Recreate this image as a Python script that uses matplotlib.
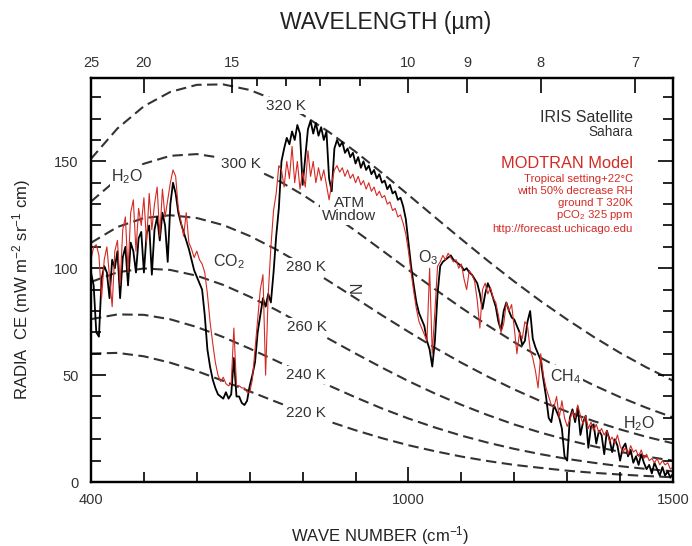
import matplotlib
matplotlib.use("Agg")
import matplotlib.pyplot as plt
import numpy as np
from matplotlib.ticker import MultipleLocator

plt.rcParams["font.family"] = ["Liberation Sans", "DejaVu Sans"]
plt.rcParams["mathtext.fontset"] = "custom"
plt.rcParams["mathtext.rm"] = "Liberation Sans"
plt.rcParams["mathtext.it"] = "Liberation Sans:italic"
plt.rcParams["mathtext.bf"] = "Liberation Sans:bold"

# spectra every 5 cm-1, 400..1500
wavenumber = np.arange(400, 1505, 5)

iris_sahara = [
    98, 92, 70, 68, 95, 101, 98, 86, 104, 100,
    108, 86, 105, 110, 92, 112, 108, 98, 114, 117,
    98, 116, 120, 97, 118, 124, 113, 126, 120, 103,
    130, 140, 135, 126, 121, 117, 113, 109, 104, 99,
    96, 93, 90, 78, 62, 54, 48, 44, 41, 40,
    39, 42, 39, 41, 58, 40, 40, 37, 36, 38,
    45, 50, 56, 70, 78, 86, 82, 88, 84, 98,
    115, 128, 150, 156, 161, 158, 164, 160, 167, 163,
    139, 152, 165, 169, 163, 168, 162, 166, 160, 164,
    142, 136, 156, 160, 157, 159, 154, 156, 152, 154,
    149, 152, 147, 150, 146, 148, 144, 146, 142, 144,
    140, 141, 137, 139, 135, 136, 132, 133, 129, 123,
    112, 101, 92, 84, 79, 76, 73, 66, 62, 54,
    66, 88, 101, 103, 104, 105, 106, 104, 103, 102,
    101, 99, 100, 98, 97, 95, 93, 88, 81, 88,
    93, 90, 86, 82, 75, 71, 80, 84, 80, 77,
    76, 73, 70, 64, 66, 75, 80, 67, 63, 60,
    57, 48, 40, 30, 28, 36, 33, 30, 25, 12,
    10, 30, 34, 28, 35, 22, 28, 31, 16, 26,
    27, 18, 24, 22, 13, 24, 20, 14, 20, 17,
    10, 16, 18, 12, 15, 9, 12, 8, 13, 9,
    6, 8, 4, 9, 6, 3, 7, 3, 5, 2,
    4,
]

modtran = [
    104, 110, 111, 106, 86, 104, 110, 96, 82, 108,
    113, 92, 118, 124, 98, 126, 132, 108, 128, 120,
    133, 112, 135, 118, 130, 138, 115, 137, 124, 132,
    140, 146, 143, 128, 122, 115, 126, 112, 109, 105,
    108, 104, 102, 98, 88, 75, 65, 56, 50, 47,
    49, 46, 45, 46, 72, 45, 45, 44, 44, 42,
    42, 48, 62, 76, 90, 97, 50, 88, 110, 127,
    135, 148, 146, 138, 150, 142, 157, 140, 150, 137,
    145, 138, 155, 143, 150, 140, 147, 141, 146, 139,
    132, 140, 146, 148, 145, 147, 143, 146, 142, 144,
    140, 143, 139, 141, 137, 140, 136, 138, 134, 136,
    133, 134, 130, 131, 127, 128, 124, 125, 121, 116,
    108, 98, 89, 81, 75, 72, 69, 66, 100, 60,
    80, 101, 103, 106, 104, 107, 105, 103, 104, 100,
    102, 95, 90, 99, 97, 94, 85, 72, 90, 93,
    88, 91, 86, 84, 78, 70, 74, 84, 80, 83,
    72, 60, 70, 67, 75, 73, 62, 58, 52, 44,
    60, 50, 44, 40, 36, 35, 40, 30, 38, 30,
    26, 29, 33, 30, 36, 31, 27, 31, 25, 28,
    24, 27, 23, 25, 22, 24, 19, 21, 18, 22,
    17, 14, 16, 13, 17, 14, 15, 12, 15, 11,
    13, 10, 11, 9, 11, 8, 10, 8, 9, 6,
    7,
]

# blackbody reference curves, read every 50 cm-1
planck_wn = [400, 450, 500, 550, 600, 650, 700, 750, 800, 850, 900, 950,
             1000, 1050, 1100, 1150, 1200, 1250, 1300, 1350, 1400, 1450, 1500]
planck_320 = [151.2, 165.4, 175.8, 182.5, 185.8, 186.0, 183.4, 178.5, 171.8, 163.7, 154.5, 144.6,
              134.3, 123.9, 113.6, 103.5, 93.8, 84.6, 76.0, 67.9, 60.4, 53.6, 47.4]
planck_300 = [131.2, 141.8, 148.9, 152.6, 153.4, 151.5, 147.4, 141.6, 134.4, 126.2, 117.5, 108.4,
              99.2, 90.2, 81.5, 73.2, 65.4, 58.1, 51.4, 45.3, 39.7, 34.7, 30.2]
planck_280 = [111.9, 119.3, 123.5, 124.8, 123.5, 120.2, 115.1, 108.8, 101.6, 93.9, 86.0, 78.0,
              70.3, 62.8, 55.8, 49.3, 43.3, 37.8, 32.9, 28.5, 24.6, 21.1, 18.1]
planck_260 = [93.6, 98.1, 99.9, 99.2, 96.5, 92.2, 86.7, 80.5, 73.7, 66.9, 60.1, 53.5,
              47.2, 41.4, 36.1, 31.3, 26.9, 23.1, 19.7, 16.7, 14.1, 11.9, 10.0]
planck_240 = [76.2, 78.4, 78.2, 76.1, 72.5, 67.8, 62.4, 56.7, 50.8, 45.1, 39.6, 34.4,
              29.7, 25.5, 21.7, 18.4, 15.5, 13.0, 10.8, 9.0, 7.4, 6.1, 5.0]
planck_220 = [60.1, 60.4, 58.8, 55.8, 51.9, 47.3, 42.4, 37.5, 32.8, 28.3, 24.2, 20.5,
              17.2, 14.4, 11.9, 9.8, 8.0, 6.6, 5.3, 4.3, 3.5, 2.8, 2.2]
planck_names = ["320 K", "300 K", "280 K", "260 K", "240 K", "220 K"]

wavelength_major = [25, 20, 15, 10, 9, 8, 7]
wavelength_minor = [14, 13, 12, 11]

fig = plt.figure(figsize=(6.92, 5.46), dpi=100)
ax = fig.add_axes([91 / 692, 64 / 546, 582 / 692, 404 / 546])

dark = "#333333"
red = "#d42a24"
box = dict(boxstyle="square,pad=0.12", fc="white", ec="none")

curves = [planck_320, planck_300, planck_280, planck_260, planck_240, planck_220]
label_at = [768, 684, 806, 808, 806, 806]
for vals, name, x_lab in zip(curves, planck_names, label_at):
    ax.plot(planck_wn, vals, color=dark, lw=1.5, ls=(0, (5, 2.6)), zorder=1)
    ax.text(x_lab, np.interp(x_lab, planck_wn, vals), name, fontsize=11, color=dark,
            ha="center", va="center", bbox=box, zorder=2)

ax.plot(wavenumber, iris_sahara, color="black", lw=1.3, zorder=3)
ax.plot(wavenumber, modtran, color=red, lw=0.8, zorder=4)

# band labels
ax.text(469, 143, "H$_2$O", fontsize=11.5, color=dark, ha="center", va="center", bbox=box, zorder=2)
ax.text(661, 103, "CO$_2$", fontsize=11.5, color=dark, ha="center", va="center", zorder=2)
ax.text(888, 127.5, "ATM\nWindow", fontsize=11, color=dark, ha="center", va="center",
        linespacing=0.95, bbox=box, zorder=2)
ax.text(903, 91, "N", fontsize=11.5, color=dark, ha="center", va="center", rotation=90, zorder=2)
ax.text(1037, 105, "O$_3$", fontsize=11.5, color=dark, ha="center", va="center", zorder=2)
ax.text(1296, 49.5, "CH$_4$", fontsize=11.5, color=dark, ha="center", va="center", bbox=box, zorder=2)
ax.text(1436, 27.5, "H$_2$O", fontsize=11.5, color=dark, ha="center", va="center", zorder=2)

ax.set_xlim(400, 1500)
ax.set_ylim(0, 189)
ax.set_xticks([400, 1000, 1500])
ax.xaxis.set_minor_locator(MultipleLocator(100))
ax.yaxis.set_major_locator(MultipleLocator(50))
ax.yaxis.set_minor_locator(MultipleLocator(10))
ax.tick_params(which="both", direction="in", right=True, labelsize=10.5, labelcolor=dark, width=1.2)
ax.tick_params(which="major", length=11)
ax.tick_params(which="minor", length=7)
ax.tick_params(axis="x", pad=8)
ax.tick_params(axis="y", pad=9)
for sp in ax.spines.values():
    sp.set_linewidth(1.6)

top = ax.twiny()
top.set_xlim(ax.get_xlim())
top.set_xticks([1e4 / w for w in wavelength_major])
top.set_xticklabels([str(w) for w in wavelength_major])
top.set_xticks([1e4 / w for w in wavelength_minor], minor=True)
top.tick_params(which="both", direction="in", labelsize=10.5, labelcolor=dark, width=1.2, pad=6)
top.tick_params(which="major", length=11)
top.tick_params(which="minor", length=6)
for sp in top.spines.values():
    sp.set_linewidth(1.6)

fig.text(386 / 692, 1 - 22 / 546, "WAVELENGTH (µm)", fontsize=16.5, color="#222222",
         ha="center", va="center")
fig.text(380 / 692, 1 - 536 / 546, "WAVE NUMBER (cm$^{-1}$)", fontsize=12, color="#222222",
         ha="center", va="center")
fig.text(22 / 692, 1 - 290 / 546, "RADIA  CE (mW m$^{-2}$ sr$^{-1}$ cm)", fontsize=12,
         color="#222222", ha="center", va="center", rotation=90)

# legend-like notes at upper right
rx = 633 / 692
fig.text(rx, 1 - 117 / 546, "IRIS Satellite", fontsize=11.5, color="#303030", ha="right", va="center")
fig.text(rx, 1 - 132 / 546, "Sahara", fontsize=9.8, color="#303030", ha="right", va="center")
fig.text(rx, 1 - 163 / 546, "MODTRAN Model", fontsize=11.8, color=red, ha="right", va="center")
notes = ["Tropical setting+22°C", "with 50% decrease RH", "ground T 320K",
         "pCO$_2$ 325 ppm", "http://forecast.uchicago.edu"]
for note, y in zip(notes, [178.5, 190.5, 202.5, 215, 229]):
    fig.text(rx, 1 - y / 546, note, fontsize=8.2, color=red, ha="right", va="center")

fig.savefig("out.png", dpi=100)
